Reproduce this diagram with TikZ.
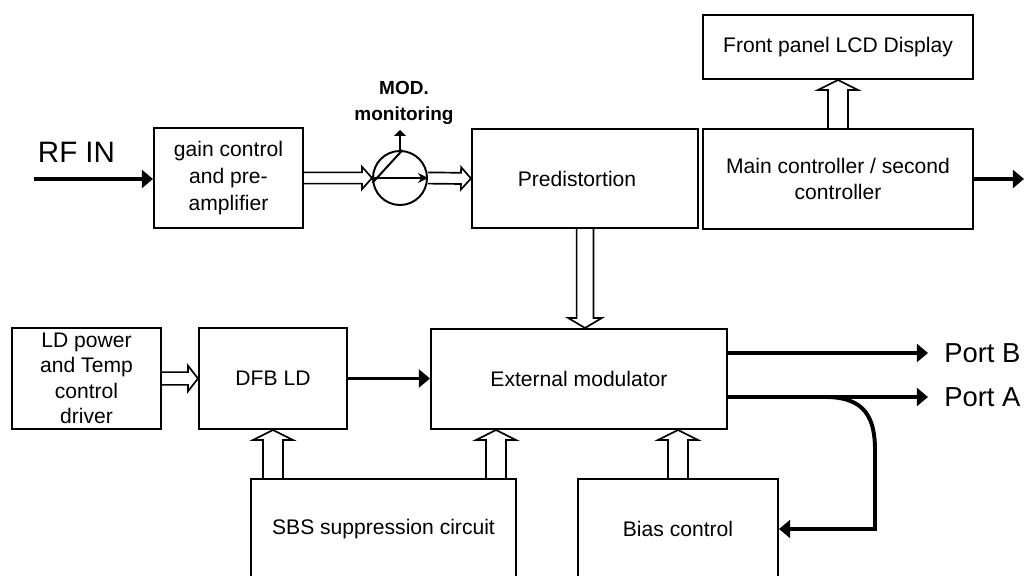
\documentclass[tikz,border=0pt]{standalone}
\usepackage{fontspec}
\setmainfont{Liberation Sans}
\usepackage{tikz}
\usetikzlibrary{positioning}
\usetikzlibrary{shapes,calc,arrows.meta}
\tikzset{
	x=0.025cm, y=-0.025cm,
	blk/.style = {rectangle, draw, line width=1.4pt, inner sep=0pt, align=center,
	 font=\fontsize{15}{19}\selectfont},
	lbl/.style = {inner sep=0pt, align=center},
	sig/.style = {line width=2.8pt, -{Triangle[length=0.28cm, width=0.45cm]}},
	bus/.style = {line width=1.2pt, to path={
	 ($(\tikztostart)!#1!90:(\tikztotarget)$)
	 -- ($(\tikztotarget)!0.25cm!(\tikztostart)!#1!-90:(\tikztostart)$)
	 -- ($(\tikztotarget)!0.25cm!(\tikztostart)!2*#1!-90:(\tikztostart)$)
	 -- (\tikztotarget)
	 -- ($(\tikztotarget)!0.25cm!(\tikztostart)!2*#1!90:(\tikztostart)$)
	 -- ($(\tikztotarget)!0.25cm!(\tikztostart)!#1!90:(\tikztostart)$)
	 -- ($(\tikztostart)!#1!-90:(\tikztotarget)$)}},
	bus/.default = 0.25cm,
}
\begin{document}
\begin{tikzpicture}
	\clip (0,0) rectangle (1025,576);
	% top row
	\node (gain) [blk, minimum width=3.725cm, minimum height=2.5cm] at (228.5,178) {gain control\\and pre-\\amplifier};
	\node (mon) [circle, draw, line width=1.4pt, minimum size=1.35cm, inner sep=0pt] at (400,178) {};
	\node (pred) [blk, minimum width=5.65cm, minimum height=2.475cm, text width=5.2cm] at (585,178.5) {\hspace*{-0.4cm}Predistortion};
	\node (lcd) [blk, minimum width=6.75cm, minimum height=1.6cm] at (838,47) {Front panel LCD Display};
	\node (main) [blk, minimum width=6.75cm, minimum height=2.5cm] at (838,179) {Main controller / second\\controller};
	% middle row
	\node (ld) [blk, minimum width=3.725cm, minimum height=2.525cm, font=\fontsize{15}{18}\selectfont] at (86.5,378.5) {LD power\\and Temp\\control\\driver};
	\node (dfb) [blk, minimum width=3.7cm, minimum height=2.525cm] at (273,378.5) {DFB LD};
	\node (ext) [blk, minimum width=7.4cm, minimum height=2.5cm] at (579,379) {External modulator};
	% bottom row
	\node (sbs) [blk, minimum width=6.625cm, minimum height=2.5cm] at (383.5,529) {SBS suppression circuit};
	\node (bias) [blk, minimum width=5cm, minimum height=2.5cm] at (678,529) {Bias control};
	% labels
	\node (rflbl) [lbl, font=\fontsize{21}{24}\selectfont] at (76.5,152.5) {RF IN};
	\node (modlbl) [lbl, font=\bfseries\fontsize{13.5}{19}\selectfont] at (404,103) {MOD.\\monitoring};
	\node (portb) [lbl, anchor=west, font=\fontsize{19.5}{22}\selectfont] at (944,353) {Port B};
	\node (porta) [lbl, anchor=west, font=\fontsize{19.5}{22}\selectfont] at (944,397) {Port A};
	\coordinate (rfin) at (34,179);
	\coordinate (mainout) at (1024,179);
	\coordinate (monout) at (400,130);
	\coordinate (tap) at (828,397);
	% solid connectors
	\draw[sig] (rfin) -- (rfin -| gain.west);
	\draw[sig] (main.east) -- (mainout);
	\draw[sig] (dfb.east) -- (dfb.east -| ext.west);
	\draw[sig] (ext.east |- portb) -- ([xshift=-0.4cm]portb.west);
	\draw[sig] (ext.east |- porta) -- ([xshift=-0.4cm]porta.west);
	\draw[sig] (tap) .. controls (865,398) and (875,418) .. (875,450) |- (bias.east);
	% monitoring coupler
	\draw[line width=1.2pt, -{Stealth[length=0.25cm, width=0.25cm]}] (mon.west) -- (mon.east);
	\draw[line width=1.4pt] (mon.190) -- (mon.85);
	\draw[line width=1.2pt, -{Triangle[length=0.15cm, width=0.3cm]}] (mon.north) -- (monout);
	% hollow (bus) connectors
	\draw[bus=0.14cm] (gain.east) to (mon.west);
	\draw[bus=0.14cm] (mon.east) to (pred.west);
	\draw[bus=0.16cm] (ld.east) to (dfb.west);
	\draw[bus] (main.north) to (lcd.south);
	\draw[bus=0.21cm] (pred.south) to (pred.south |- ext.north);
	\coordinate (s1) at (dfb.south |- sbs.north);
	\coordinate (s2) at ($(sbs.north east)+(-21,0)$);
	\draw[bus] (s1) to (dfb.south);
	\draw[bus] (s2) to (s2 |- ext.south);
	\draw[bus] (bias.north) to (bias.north |- ext.south);
\end{tikzpicture}
\end{document}
